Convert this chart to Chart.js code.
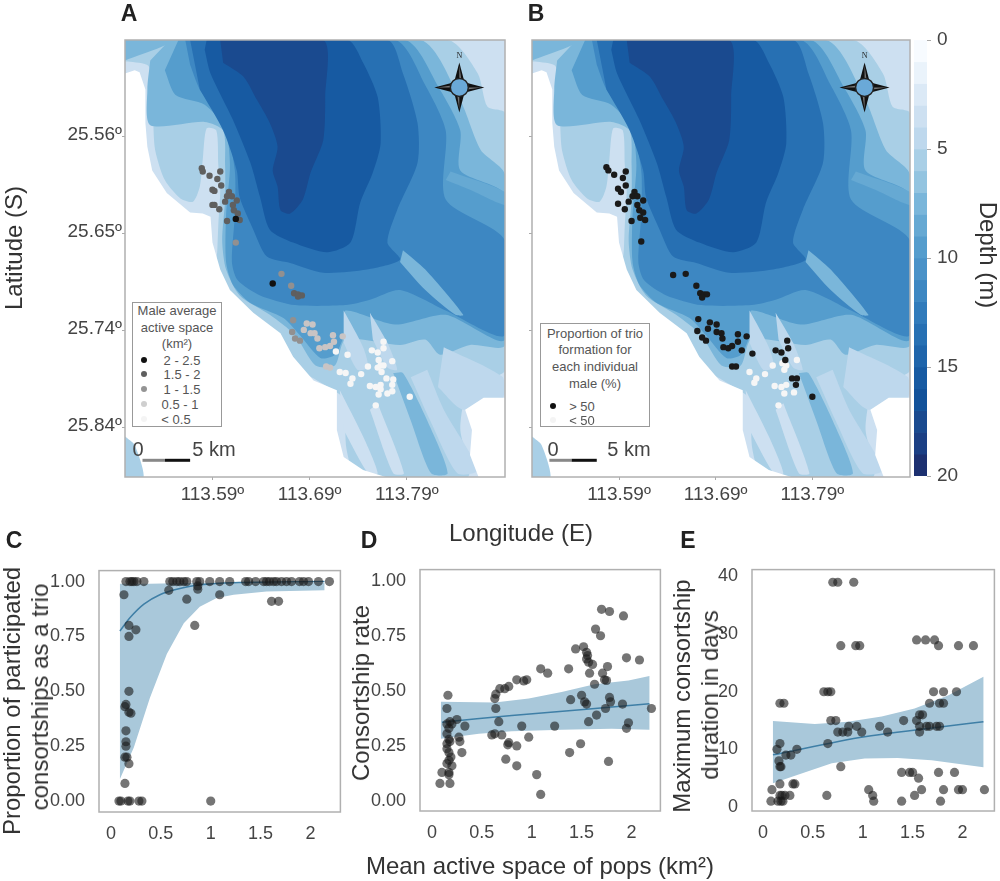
<!DOCTYPE html>
<html>
<head>
<meta charset="utf-8">
<title>Active space and consortships</title>
<script src="https://cdn.jsdelivr.net/npm/chart.js@4"></script>
<style>
    html, body { margin: 0; padding: 0; background: #fff; }
    #page { position: relative; width: 1000px; height: 881px; overflow: hidden; font-family: "Liberation Sans", Arial, sans-serif; filter: blur(0.45px); }
    canvas { position: absolute; }
    #mapA, #mapB { filter: blur(0.5px); }
    .t { position: absolute; white-space: nowrap; transform: translate(-50%, -50%); color: #333; font-size: 24px; }
    .up { transform: translate(-50%, -50%) rotate(-90deg); }
    .down { transform: translate(-50%, -50%) rotate(90deg); }
    .panel { font-weight: bold; font-size: 23px; color: #222; }
    .bar { font-size: 20px; color: #444; }
    .legend { position: absolute; background: #fff; border: 1.5px solid #999; box-sizing: border-box; }
    .lt { font-size: 13px; color: #555; }
    .dot { position: absolute; width: 6px; height: 6px; border-radius: 50%; transform: translate(-50%, -50%); }
</style>
</head>
<body>
<div id="page">
    <canvas id="mapA"></canvas>
    <canvas id="mapB"></canvas>
    <canvas id="depthBar"></canvas>
    <canvas id="chartC"></canvas>
    <canvas id="chartD"></canvas>
    <canvas id="chartE"></canvas>

    <div class="t panel" style="left:129px;top:13px">A</div>
    <div class="t panel" style="left:536px;top:13px">B</div>
    <div class="t panel" style="left:14px;top:540px">C</div>
    <div class="t panel" style="left:369px;top:540px">D</div>
    <div class="t panel" style="left:688px;top:540px">E</div>

    <div class="t up" style="left:14px;top:248px">Latitude (S)</div>
    <div class="t" style="left:521px;top:533px">Longitude (E)</div>
    <div class="t down" style="left:988px;top:255px">Depth (m)</div>
    <div class="t" style="left:540px;top:866px">Mean active space of pops (km²)</div>
    <div class="t up" style="left:12px;top:701px">Proportion of participated</div>
    <div class="t up" style="left:40px;top:697px">consortships as a trio</div>
    <div class="t up" style="left:361px;top:693px">Consortship rate</div>
    <div class="t up" style="left:682px;top:696px">Maximum consortship</div>
    <div class="t up" style="left:710px;top:695px">duration in days</div>

    <div class="t bar" style="left:138px;top:449px">0</div>
    <div class="t bar" style="left:214px;top:449px">5 km</div>
    <div class="t bar" style="left:553px;top:449px">0</div>
    <div class="t bar" style="left:629px;top:449px">5 km</div>

    <div class="legend" style="left:132px;top:302px;width:90px;height:125px"></div>
    <div class="t lt" style="left:177px;top:310px">Male average</div>
    <div class="t lt" style="left:177px;top:327px">active space</div>
    <div class="t lt" style="left:177px;top:343px">(km²)</div>
    <div class="dot" style="left:144px;top:360px;background:#111"></div>
    <div class="t lt" style="left:182px;top:360px">2 - 2.5</div>
    <div class="dot" style="left:144px;top:374px;background:#5f5f5f"></div>
    <div class="t lt" style="left:182px;top:374px">1.5 - 2</div>
    <div class="dot" style="left:144px;top:389px;background:#949494"></div>
    <div class="t lt" style="left:182px;top:389px">1 - 1.5</div>
    <div class="dot" style="left:144px;top:404px;background:#cfcfcf"></div>
    <div class="t lt" style="left:180px;top:404px">0.5 - 1</div>
    <div class="dot" style="left:144px;top:419px;background:#f4f4f4"></div>
    <div class="t lt" style="left:176px;top:419px">&lt; 0.5</div>

    <div class="legend" style="left:540px;top:323px;width:110px;height:104px"></div>
    <div class="t lt" style="left:595px;top:333px">Proportion of trio</div>
    <div class="t lt" style="left:595px;top:349px">formation for</div>
    <div class="t lt" style="left:595px;top:366px">each individual</div>
    <div class="t lt" style="left:595px;top:383px">male (%)</div>
    <div class="dot" style="left:553px;top:406px;background:#111"></div>
    <div class="t lt" style="left:582px;top:406px">&gt; 50</div>
    <div class="dot" style="left:553px;top:420px;background:#f4f4f4"></div>
    <div class="t lt" style="left:582px;top:420px">&lt; 50</div>
</div>

<script>
    // map positions below are [lon, lat] in thousandths of a degree from 113.5E / 25.47S
    const lonTicks = [113.59, 113.69, 113.79];
    const lonTickLabels = ["113.59º", "113.69º", "113.79º"];
    const latTicks = [25.56, 25.65, 25.74, 25.83];
    const latTickLabels = ["25.56º", "25.65º", "25.74º", "25.84º"];
    const depthTicks = [0, 5, 10, 15, 20];
    const rateXTicks = [0, 0.5, 1, 1.5, 2];
    const rateYTicks = [0, 0.25, 0.5, 0.75, 1];
    const daysYTicks = [0, 10, 20, 30, 40];

    // one colour per metre of depth, same steps as the colour bar
    const depthColors = ["#f7fbff", "#eaf3fb", "#dbe9f6", "#cde0f1", "#bed8ed", "#a9cfe6", "#93c4e0", "#7ab6da", "#66a9d3", "#559dcd",
        "#4a92c8", "#3d87c2", "#317bbb", "#2770b3", "#1f65ab", "#175aa2", "#12529a", "#1a4a8f", "#1b3f84", "#1c3070"];

    const mapFrame = [[0, 0], [391, 0], [391, 406], [0, 406]];
    const depth5 = [[0, 0], [332, 0], [363, 31], [373, 62], [391, 68], [391, 306], [355, 320], [345, 360], [352, 406], [240, 406], [228, 380], [226, 340], [221, 329], [180, 306], [149, 278], [129, 260], [93, 227], [95, 195], [96, 172], [98, 139], [96, 116], [94, 84], [84, 82], [80, 111], [77, 136], [70, 150], [57, 147], [41, 130], [31, 102], [29, 74], [28, 46], [24, 24], [3, 20], [0, 20]];
    const depth7 = [[46, 0], [304, 0], [345, 56], [366, 102], [391, 125], [391, 283], [355, 283], [324, 292], [309, 278], [283, 283], [227, 278], [216, 302], [196, 302], [175, 274], [149, 255], [118, 237], [104, 213], [100, 186], [103, 148], [103, 116], [101, 84], [82, 76], [26, 79], [23, 46], [26, 19]];
    const depth9 = [[55, 0], [288, 0], [324, 46], [345, 84], [345, 121], [391, 144], [391, 278], [330, 255], [278, 264], [227, 251], [227, 269], [216, 292], [201, 295], [180, 274], [163, 258], [129, 244], [111, 227], [104, 206], [104, 162], [108, 116], [103, 82], [82, 60], [52, 51], [41, 28]];
    const depth11 = [[62, 0], [278, 0], [309, 42], [330, 84], [330, 148], [391, 186], [391, 274], [330, 251], [283, 232], [252, 241], [227, 246], [175, 246], [139, 237], [116, 223], [110, 206], [113, 162], [113, 121], [103, 79], [77, 46], [67, 23]];
    const depth13 = [[67, 0], [270, 0], [286, 31], [301, 77], [301, 114], [280, 158], [270, 188], [283, 204], [249, 213], [204, 216], [170, 207], [146, 201], [132, 176], [118, 146], [115, 121], [101, 84], [77, 46]];
    const depth15 = [[84, 0], [229, 0], [245, 21], [260, 53], [263, 96], [255, 123], [242, 151], [232, 188], [208, 197], [173, 188], [149, 176], [139, 146], [129, 114], [111, 74], [88, 31], [82, 9]];
    const depth17 = [[98, 0], [204, 0], [206, 53], [204, 93], [191, 123], [183, 148], [170, 161], [160, 158], [157, 136], [152, 121], [157, 99], [149, 77], [136, 56], [122, 34], [101, 21]];

    // sandbanks and channels laid over the contours
    const topCorner = [[0, 0], [51, 0], [36, 7], [0, 19]];
    const ridgeNorth = [[286, 195], [309, 213], [348, 255], [340, 255], [309, 232], [283, 206]];
    const ridgeEast = [[335, 122], [391, 141], [391, 153], [355, 139], [330, 130]];
    const ribA = [[225, 251], [245, 285], [250, 304], [239, 306], [225, 281]];
    const ribB = [[252, 253], [270, 281], [280, 306], [270, 304], [255, 278]];
    const ribC = [[221, 325], [245, 368], [260, 402], [250, 402], [225, 362]];
    const ribD = [[260, 337], [287, 402], [276, 402], [252, 343]];
    const ribE = [[311, 306], [328, 343], [363, 399], [342, 402], [314, 353], [294, 313]];
    const ribF = [[328, 285], [389, 313], [389, 332], [348, 343], [322, 322]];
    const channelMain = [[276, 309], [286, 309], [314, 359], [332, 402], [315, 402], [294, 353]];

    const landMain = [[0, 31], [10, 28], [15, 30], [21, 46], [21, 77], [23, 99], [28, 121], [43, 142], [67, 160], [80, 161], [88, 164], [90, 188], [98, 213], [108, 232], [132, 253], [160, 272], [173, 294], [194, 316], [218, 325], [218, 362], [225, 387], [245, 399], [270, 406], [0, 406]];
    const landEast = [[350, 343], [369, 332], [391, 332], [391, 406], [364, 406], [355, 385], [357, 362]];
    const cornerWater = [[0, 368], [10, 376], [19, 406], [0, 406]];

    const scaleGray = [[18, 390], [41, 390]];
    const scaleBlack = [[41, 390], [67, 390]];
    const compassAt = [344, 44];

    // panel A, active space classes
    const active2to25 = [[114, 166], [152, 226]];
    const active15to2 = [[79, 119], [80, 122], [87, 126], [95, 129], [98, 122], [99, 135], [90, 139], [92, 140], [107, 141], [105, 145], [110, 145], [103, 150], [115, 149], [90, 153], [92, 153], [97, 157], [111, 153], [112, 158], [116, 161], [105, 168], [118, 167], [174, 235], [178, 236], [182, 237], [178, 238]];
    const active1to15 = [[114, 188], [161, 217], [171, 228], [173, 260], [172, 271], [175, 277], [180, 279]];
    const active05to1 = [[187, 263], [193, 264], [184, 269], [191, 272], [195, 272], [198, 277], [214, 274], [224, 275], [200, 286], [206, 285], [211, 284], [215, 280], [207, 303], [211, 304]];
    const activeUnder05 = [[217, 289], [229, 292], [266, 280], [266, 286], [254, 288], [260, 290], [275, 298], [250, 303], [261, 297], [263, 302], [266, 302], [260, 304], [264, 308], [243, 310], [227, 309], [221, 308], [234, 314], [232, 319], [269, 314], [276, 315], [252, 321], [258, 322], [263, 320], [275, 320], [263, 324], [275, 326], [270, 328], [261, 329], [293, 331], [258, 339]];

    // panel B, trio formation classes
    const trioOver50 = [[77, 118], [79, 121], [85, 125], [94, 128], [97, 122], [97, 135], [89, 138], [92, 141], [106, 141], [104, 145], [109, 145], [100, 150], [115, 149], [89, 152], [96, 157], [109, 153], [111, 158], [115, 160], [103, 168], [112, 165], [117, 167], [113, 187], [146, 218], [159, 217], [170, 228], [174, 235], [178, 236], [181, 236], [176, 239], [172, 259], [171, 270], [184, 262], [191, 264], [182, 268], [191, 271], [196, 272], [197, 277], [176, 276], [180, 279], [213, 273], [222, 275], [198, 285], [203, 286], [207, 284], [213, 280], [217, 288], [228, 291], [207, 303], [211, 303], [264, 279], [265, 286], [252, 288], [258, 290], [262, 297], [269, 314], [274, 314], [273, 320], [290, 331]];
    const trioUnder50 = [[249, 302], [259, 300], [263, 302], [274, 297], [261, 306], [241, 310], [225, 308], [232, 314], [230, 318], [251, 321], [258, 322], [263, 320], [261, 328], [271, 327], [255, 339]];

    // panel C
    const trioPoints = [[0.15, 1], [0.19, 1], [0.21, 1], [0.23, 1], [0.26, 1], [0.33, 1], [0.59, 1], [0.62, 1], [0.66, 1], [0.69, 1], [0.73, 1], [0.76, 1], [0.86, 1], [0.89, 1], [0.99, 1], [1.09, 1], [1.19, 1], [1.35, 1], [1.38, 1], [1.45, 1], [1.53, 1], [1.56, 1], [1.59, 1], [1.63, 1], [1.66, 1], [1.71, 1], [1.76, 1], [1.81, 1], [1.89, 1], [1.93, 1], [1.98, 1], [2.08, 1], [2.19, 1],
        [0.13, 0.94], [0.58, 0.96], [0.87, 0.98], [0.87, 0.965], [0.76, 0.92], [1.09, 0.94], [1.61, 0.91], [1.68, 0.91], [0.18, 0.8], [0.25, 0.78], [0.18, 0.75], [0.84, 0.8], [0.18, 0.5], [0.15, 0.44], [0.14, 0.43], [0.18, 0.405], [0.2, 0.4], [0.15, 0.32], [0.15, 0.27], [0.15, 0.25], [0.14, 0.2], [0.16, 0.2], [0.18, 0.17], [0.14, 0.08],
        [0.08, 0], [0.1, 0], [0.17, 0], [0.19, 0], [0.28, 0], [0.31, 0], [1, 0]];
    const trioUpper = [[0.09, 0.99], [0.39, 0.99], [0.89, 0.995], [2.14, 0.995]];
    const trioLower = [[0.09, 0.1], [0.23, 0.245], [0.39, 0.47], [0.56, 0.67], [0.73, 0.81], [0.89, 0.885], [1.06, 0.925], [1.23, 0.94], [1.56, 0.955], [2.14, 0.96]];
    const trioFit = [[0.09, 0.775], [0.19, 0.835], [0.33, 0.897], [0.49, 0.94], [0.66, 0.965], [0.89, 0.985], [1.23, 0.995], [2.14, 1]];

    // panel D
    const ratePoints = [[1.7, 0.87], [1.78, 0.86], [1.92, 0.84], [1.64, 0.78], [1.69, 0.75], [1.44, 0.69], [1.52, 0.7], [1.55, 0.675], [1.56, 0.66], [1.55, 0.645], [1.95, 0.65], [2.08, 0.64], [1.57, 0.63], [1.61, 0.62], [1.37, 0.6], [1.09, 0.6], [1.16, 0.58], [1.58, 0.58], [1.71, 0.58], [1.76, 0.61], [1.73, 0.55], [1.75, 0.547], [1.63, 0.53], [0.85, 0.55], [0.92, 0.545], [0.95, 0.55], [0.77, 0.52], [0.73, 0.51], [0.68, 0.51], [0.64, 0.485], [0.63, 0.465], [0.16, 0.48], [0.15, 0.42], [0.64, 0.42], [1.39, 0.46], [1.5, 0.48], [1.53, 0.45], [1.55, 0.44], [1.78, 0.47], [1.79, 0.45], [1.91, 0.44], [1.74, 0.42], [2.2, 0.42], [1.65, 0.39], [1.57, 0.36], [1.97, 0.355], [1.95, 0.33], [1.23, 0.34], [0.9, 0.34], [0.67, 0.36], [0.33, 0.34], [0.25, 0.37], [0.18, 0.36], [0.15, 0.35], [0.2, 0.35], [0.17, 0.33], [0.6, 0.3], [0.63, 0.305], [0.7, 0.3], [0.97, 0.29], [0.27, 0.29], [0.28, 0.27], [0.77, 0.265], [0.76, 0.255], [0.85, 0.25], [1.49, 0.26], [1.38, 0.22], [0.3, 0.22], [0.74, 0.19], [0.85, 0.16], [1.77, 0.18], [1.05, 0.12], [1.09, 0.03],
        [0.15, 0.305], [0.17, 0.28], [0.15, 0.26], [0.18, 0.27], [0.15, 0.237], [0.17, 0.22], [0.19, 0.2], [0.17, 0.185], [0.2, 0.16], [0.17, 0.13], [0.17, 0.12], [0.1, 0.13], [0.08, 0.08], [0.18, 0.08], [0.15, 0.17]];
    const rateUpper = [[0.09, 0.45], [0.63, 0.447], [0.97, 0.465], [1.3, 0.495], [1.63, 0.53], [1.97, 0.547], [2.18, 0.567]];
    const rateLower = [[0.09, 0.283], [0.47, 0.305], [0.8, 0.317], [1.3, 0.323], [1.8, 0.328], [2.18, 0.323]];
    const rateFit = [[0.1, 0.358], [0.8, 0.388], [2.18, 0.441]];

    // panel E
    const daysPoints = [[0.7, 39], [0.75, 39], [0.91, 39], [0.78, 28], [0.93, 28], [0.97, 28], [1.76, 28], [1.96, 28], [2.11, 28], [1.54, 29], [1.63, 29], [1.72, 29], [0.61, 20], [0.65, 20], [0.68, 20], [1.71, 20], [1.81, 20], [1.94, 20], [0.17, 18], [0.21, 18], [1.67, 18], [1.77, 18], [1.81, 18], [1.57, 16], [1.6, 16], [0.68, 15], [0.73, 15], [1.41, 15], [1.54, 15], [0.86, 14], [0.94, 14], [1.17, 14], [1.57, 14], [1.64, 14], [1.67, 14], [1.74, 14], [1.77, 14], [0.75, 13], [0.8, 13], [0.85, 13], [0.99, 13], [1.25, 13], [1.57, 13], [0.17, 11], [0.65, 11], [0.14, 10], [0.34, 10], [0.23, 9], [0.28, 9], [0.16, 8], [0.17, 7], [0.18, 7], [0.78, 7], [1.39, 6], [1.47, 6], [1.5, 6], [1.76, 6], [1.92, 6], [1.56, 5], [0.17, 4], [0.3, 4], [0.32, 4], [0.09, 3], [1.06, 3], [1.59, 3], [1.81, 3], [1.96, 3], [2, 3], [2.22, 3], [0.17, 2], [0.19, 2], [0.22, 2], [0.27, 2], [0.64, 2], [1.1, 2], [1.52, 2], [0.08, 1], [0.15, 1], [0.18, 1], [0.2, 1], [1.11, 1], [1.39, 1], [1.78, 1]];
    const daysUpper = [[0.1, 14.9], [0.52, 14.4], [0.85, 14.8], [1.19, 15.7], [1.52, 17.1], [1.86, 19.4], [2.21, 22.6]];
    const daysLower = [[0.1, 4.1], [0.35, 5.6], [0.69, 7.6], [1.02, 8.4], [1.35, 8.5], [1.69, 8.1], [2.21, 6.9]];
    const daysFit = [[0.1, 9.05], [1.02, 12.2], [2.21, 14.8]];

    const toMap = ([a, b]) => ({ x: 113.5 + a / 1000, y: 25.47 + b / 1000 });
    const toXY = ([x, y]) => ({ x, y });
    const TEXT_FONT = { family: "Liberation Sans", size: 19 };
    const FIT_FONT = { family: "Liberation Sans", size: 18 };

    // fixed plot rectangle inside a canvas sized around it
    function place(id, plot, margin, config) {
        const canvas = document.getElementById(id);
        canvas.width = plot.r - plot.l + margin.l + margin.r;
        canvas.height = plot.b - plot.t + margin.t + margin.b;
        canvas.style.left = plot.l - margin.l + "px";
        canvas.style.top = plot.t - margin.t + "px";
        const rightAxis = Object.values(config.options.scales).some((s) => s.position === "right");
        config.options.responsive = false;
        config.options.animation = false;
        config.options.layout = { padding: { top: margin.t, right: rightAxis ? 0 : margin.r, left: 0, bottom: rightAxis ? margin.b : 0 } };
        config.options.plugins = { legend: { display: false }, tooltip: { enabled: false } };
        for (const key of Object.keys(config.options.scales)) {
            const scale = config.options.scales[key];
            if (scale.display === false) continue;
            scale.afterFit = (s) => {
                if (s.isHorizontal()) s.height = margin.b;
                else s.width = s.position === "right" ? margin.r : margin.l;
                // keep the plot rectangle where it was asked for
                s.paddingTop = s.paddingBottom = s.paddingLeft = s.paddingRight = 0;
            };
        }
        return new Chart(canvas, config);
    }

    const framePlugin = {
        id: "frame",
        afterDraw(chart) {
            const { ctx, chartArea: a } = chart;
            ctx.save();
            ctx.strokeStyle = "#b0b0b0";
            ctx.lineWidth = 1.5;
            ctx.strokeRect(a.left, a.top, a.width, a.height);
            ctx.restore();
        },
    };

    const compassPlugin = {
        id: "compass",
        afterDatasetsDraw(chart) {
            const { ctx, scales } = chart;
            const at = toMap(compassAt);
            const cx = scales.x.getPixelForValue(at.x);
            const cy = scales.y.getPixelForValue(at.y);
            ctx.save();
            ctx.translate(cx, cy);
            for (let i = 0; i < 4; i++) {
                ctx.fillStyle = "#111";
                ctx.beginPath();
                ctx.moveTo(0, -25);
                ctx.lineTo(5, -6);
                ctx.lineTo(-5, -6);
                ctx.fill();
                ctx.fillStyle = "#777";
                ctx.beginPath();
                ctx.moveTo(0, -22);
                ctx.lineTo(2, -8);
                ctx.lineTo(0, -8);
                ctx.fill();
                ctx.rotate(Math.PI / 2);
            }
            ctx.beginPath();
            ctx.arc(0, 0, 9, 0, Math.PI * 2);
            ctx.fillStyle = "#6aa9d8";
            ctx.fill();
            ctx.strokeStyle = "#222";
            ctx.lineWidth = 1.5;
            ctx.stroke();
            ctx.fillStyle = "#222";
            ctx.font = "8px 'Liberation Serif'";
            ctx.textAlign = "center";
            ctx.fillText("N", 0, -29);
            ctx.restore();
        },
    };

    function area(points, depth) {
        return { data: points.map(toMap), showLine: true, fill: "shape", backgroundColor: depthColors[depth], borderWidth: 0, pointRadius: 0, tension: 0.25 };
    }

    function landArea(points) {
        return { data: points.map(toMap), showLine: true, fill: "shape", backgroundColor: "#ffffff", borderWidth: 0, pointRadius: 0 };
    }

    function scaleLine(points, color) {
        return { data: points.map(toMap), showLine: true, borderColor: color, borderWidth: 3, pointRadius: 0 };
    }

    function mapDots(points, color) {
        return { data: points.map(toMap), backgroundColor: color, borderWidth: 0, pointRadius: 3.2 };
    }

    // later entries end up on top
    function layered(list) {
        return list.map((d, i) => ({ ...d, order: list.length - i }));
    }

    function mapBase() {
        return [
            area(mapFrame, 3), area(depth5, 5), area(topCorner, 7), area(depth7, 7), area(depth9, 9), area(depth11, 11),
            area(depth13, 13), area(depth15, 15), area(depth17, 17),
            area(ridgeNorth, 7), area(ridgeEast, 8), area(ribF, 4), area(ribA, 4), area(ribB, 4), area(ribC, 3), area(ribD, 3), area(ribE, 4),
            area(channelMain, 7),
            landArea(landMain), landArea(landEast), area(cornerWater, 5),
            scaleLine(scaleGray, "#888888"), scaleLine(scaleBlack, "#111111"),
        ];
    }

    function mapOptions(showLat) {
        return {
            scales: {
                x: {
                    type: "linear", min: 113.5, max: 113.891,
                    afterBuildTicks: (s) => { s.ticks = lonTicks.map((value) => ({ value })); },
                    grid: { drawOnChartArea: false, tickLength: 3, color: "#aaa" }, border: { display: false },
                    ticks: { color: "#444", font: TEXT_FONT, padding: 3, maxRotation: 0, autoSkip: false, callback: (v, i) => lonTickLabels[i] },
                },
                y: {
                    type: "linear", reverse: true, min: 25.47, max: 25.8755,
                    afterBuildTicks: (s) => { s.ticks = latTicks.map((value) => ({ value })); },
                    grid: { drawOnChartArea: false, tickLength: 3, color: "#aaa" }, border: { display: false },
                    ticks: { color: "#444", font: TEXT_FONT, padding: 0, labelOffset: -2, autoSkip: false, callback: (v, i) => (showLat ? latTickLabels[i] : "") },
                },
            },
        };
    }

    place("mapA", { l: 125, t: 40, r: 505, b: 477 }, { l: 65, r: 4, t: 4, b: 32 }, {
        type: "scatter",
        data: {
            datasets: layered([
                ...mapBase(),
                mapDots(activeUnder05, "#f6f6f6"), mapDots(active05to1, "#c9c4c4"), mapDots(active1to15, "#929090"),
                mapDots(active15to2, "#5f5f5f"), mapDots(active2to25, "#111111"),
            ]),
        },
        options: mapOptions(true),
        plugins: [compassPlugin, framePlugin],
    });

    place("mapB", { l: 532, t: 40, r: 910, b: 477 }, { l: 8, r: 4, t: 4, b: 32 }, {
        type: "scatter",
        data: {
            datasets: layered([...mapBase(), mapDots(trioUnder50, "#f6f6f6"), mapDots(trioOver50, "#1a1a1a")]),
        },
        options: mapOptions(false),
        plugins: [compassPlugin, framePlugin],
    });

    place("depthBar", { l: 914, t: 40, r: 927, b: 476 }, { l: 0, r: 42, t: 10, b: 10 }, {
        type: "bar",
        data: {
            labels: ["depth"],
            datasets: depthColors.map((color, d) => ({ data: [[d, d + 1]], backgroundColor: color, barPercentage: 1, categoryPercentage: 1, grouped: false })),
        },
        options: {
            scales: {
                x: { display: false },
                y: {
                    position: "right", reverse: true, min: 0, max: 20,
                    afterBuildTicks: (s) => { s.ticks = depthTicks.map((value) => ({ value })); },
                    grid: { drawOnChartArea: false, tickLength: 4, color: "#aaa" }, border: { display: false },
                    ticks: { color: "#444", font: TEXT_FONT, padding: 6 },
                },
            },
        },
    });

    function fitChart(id, plot, margin, xRange, yRange, yTicks, yFormat, points, upper, lower, fit) {
        place(id, plot, margin, {
            type: "scatter",
            data: {
                datasets: layered([
                    { data: [...upper, ...lower.slice().reverse()].map(toXY), showLine: true, fill: "shape", backgroundColor: "#a9c8da", borderWidth: 0, pointRadius: 0 },
                    { data: fit.map(toXY), showLine: true, borderColor: "#3f7fa6", borderWidth: 1.5, pointRadius: 0, tension: 0.3 },
                    { data: points.map(toXY), backgroundColor: "rgba(25, 25, 25, 0.6)", borderWidth: 0, pointRadius: 4.6 },
                ]),
            },
            options: {
                scales: {
                    x: {
                        type: "linear", min: xRange[0], max: xRange[1],
                        afterBuildTicks: (s) => { s.ticks = rateXTicks.map((value) => ({ value })); },
                        grid: { display: false }, border: { display: false },
                        ticks: { color: "#444", font: FIT_FONT, padding: 3, maxRotation: 0, callback: (v) => String(v) },
                    },
                    y: {
                        type: "linear", min: yRange[0], max: yRange[1],
                        afterBuildTicks: (s) => { s.ticks = yTicks.map((value) => ({ value })); },
                        grid: { display: false }, border: { display: false },
                        ticks: { color: "#444", font: FIT_FONT, padding: 6, callback: yFormat },
                    },
                },
            },
            plugins: [framePlugin],
        });
    }

    const twoDecimals = (v) => v.toFixed(2);

    fitChart("chartC", { l: 99, t: 570, r: 341, b: 812 }, { l: 52, r: 4, t: 4, b: 30 }, [-0.12, 2.3], [-0.05, 1.05], rateYTicks, twoDecimals, trioPoints, trioUpper, trioLower, trioFit);
    fitChart("chartD", { l: 420, t: 569, r: 661, b: 811 }, { l: 52, r: 4, t: 4, b: 30 }, [-0.12, 2.29], [-0.045, 1.05], rateYTicks, twoDecimals, ratePoints, rateUpper, rateLower, rateFit);
    fitChart("chartE", { l: 752, t: 569, r: 995, b: 811 }, { l: 36, r: 4, t: 4, b: 30 }, [-0.11, 2.32], [-0.7, 41.2], daysYTicks, (v) => String(v), daysPoints, daysUpper, daysLower, daysFit);
</script>
</body>
</html>
